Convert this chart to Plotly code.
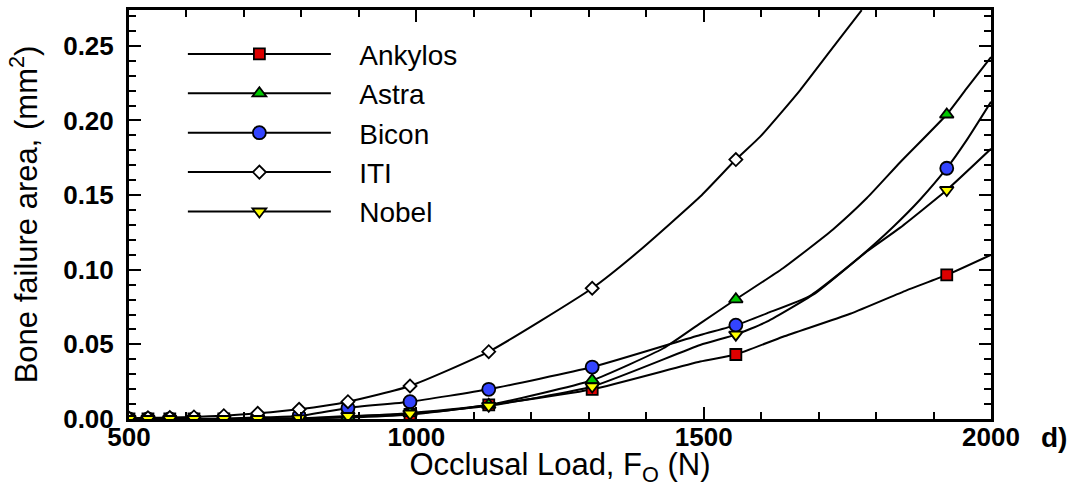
import plotly.graph_objects as go

# occlusal load where the markers sit (N)
load = [500, 533, 571, 613, 665, 724, 796, 881, 989, 1126, 1306, 1556, 1923]

# bone failure area at the marked loads (mm^2); ITI leaves the plot before 1923
ankylos = [0, 0, 0, 0, 0, 0, 0.0004, 0.001, 0.003, 0.0094, 0.0199, 0.0432, 0.0965]
astra = [0, 0, 0, 0, 0, 0, 0.0004, 0.0015, 0.004, 0.0095, 0.026, 0.0802, 0.2040]
bicon = [0, 0, 0, 0, 0.0004, 0.001, 0.002, 0.0074, 0.0116, 0.0199, 0.0348, 0.0629, 0.168]
iti = [0.0005, 0.0008, 0.001, 0.0014, 0.0022, 0.0038, 0.0065, 0.0116, 0.0221, 0.0451, 0.0876, 0.1738]
nobel = [0, 0, 0, 0, 0, 0, 0.0004, 0.002, 0.0036, 0.0088, 0.0218, 0.0565, 0.1534]

ankylos_curve = ([1494, 1638, 1755, 1853, 2000], [0.0385, 0.0551, 0.0705, 0.0862, 0.110])
astra_curve = ([1430, 1494, 1638, 1725, 1784, 1842, 1957, 2000],
               [0.0474, 0.0641, 0.101, 0.127, 0.148, 0.172, 0.2211, 0.2425])
bicon_curve = ([1494, 1610, 1685, 1772, 1830, 1876, 1958, 2000],
               [0.0563, 0.0708, 0.0825, 0.1087, 0.1288, 0.1467, 0.187, 0.2125])
iti_curve = ([1389, 1494, 1598, 1668, 1731, 1775], [0.113, 0.149, 0.189, 0.2204, 0.252, 0.2739])
nobel_curve = ([1494, 1610, 1697, 1784, 1842, 2000], [0.0496, 0.0652, 0.085, 0.1122, 0.1282, 0.181])

series = [
    ("Ankylos", ankylos, ankylos_curve, "square", "#dd0000", 11),
    ("Astra", astra, astra_curve, "triangle-up", "#00c800", 12),
    ("Bicon", bicon, bicon_curve, "circle", "#3344ff", 13),
    ("ITI", iti, iti_curve, "diamond", "white", 10),
    ("Nobel", nobel, nobel_curve, "triangle-down", "#ffff00", 12),
]

LINE = dict(color="black", width=2, shape="spline", smoothing=0.5)

fig = go.Figure()
for name, ys, (cx, cy), sym, col, ms in series:
    pts = [(x, y, ms) for x, y in zip(load, ys)] + [(x, y, 0) for x, y in zip(cx, cy)]
    pts.sort(key=lambda p: p[0])
    fig.add_scatter(
        x=[p[0] for p in pts], y=[p[1] for p in pts], name=name, legendgroup=name,
        showlegend=False, mode="lines+markers", line=LINE,
        marker=dict(symbol=sym, color=col, opacity=1, size=[p[2] for p in pts],
                    line=dict(color="black", width=[1.8 if p[2] else 0 for p in pts])),
    )
    # legend-only entry so the legend symbol keeps the full marker size
    fig.add_scatter(
        x=[None], y=[None], name="\u00a0\u00a0\u00a0" + name, legendgroup=name,
        mode="lines+markers", line=LINE,
        marker=dict(symbol=sym, color=col, size=ms, line=dict(color="black", width=1.8)),
    )

axis_common = dict(showline=True, linecolor="black", linewidth=3, mirror="ticks",
                   ticks="inside", ticklen=12, tickwidth=1.5, tickcolor="black",
                   showgrid=False, zeroline=False, automargin=False,
                   tickfont=dict(family="Liberation Sans", size=26, color="black", weight="bold"))
fig.update_xaxes(range=[500, 2000], dtick=500, tick0=500, ticklabelstandoff=-7,
                 minor=dict(dtick=100, ticks="inside", ticklen=7, tickwidth=1.5, tickcolor="black"),
                 title=dict(text="Occlusal Load, F<sub>O</sub> (N)", standoff=2,
                            font=dict(family="Liberation Sans", size=31, color="black")),
                 **axis_common)
fig.update_yaxes(range=[0, 0.274], dtick=0.05, tickformat=".2f", ticklabelstandoff=7,
                 minor=dict(dtick=0.01, ticks="inside", ticklen=7, tickwidth=1.5, tickcolor="black"),
                 title=dict(text="Bone failure area, (mm<sup>2</sup>)", standoff=17,
                            font=dict(family="Liberation Sans", size=31, color="black")),
                 **axis_common)

fig.add_annotation(text="<b>d)</b>", xref="paper", yref="paper", x=1.056, y=-0.045,
                   xanchor="left", yanchor="middle", showarrow=False,
                   font=dict(family="Liberation Sans", size=28, color="black"))

fig.update_layout(
    width=1082, height=487,
    margin=dict(l=129, r=91, t=10, b=68),
    paper_bgcolor="white", plot_bgcolor="white",
    legend=dict(x=0.0625, y=0.953, xanchor="left", yanchor="top", bgcolor="rgba(0,0,0,0)",
                itemwidth=143, tracegroupgap=0,
                font=dict(family="Liberation Sans", size=28, color="black")),
)

fig.write_html("out.html", config={"displayModeBar": False},
               post_script="document.body.style.margin='0';")
